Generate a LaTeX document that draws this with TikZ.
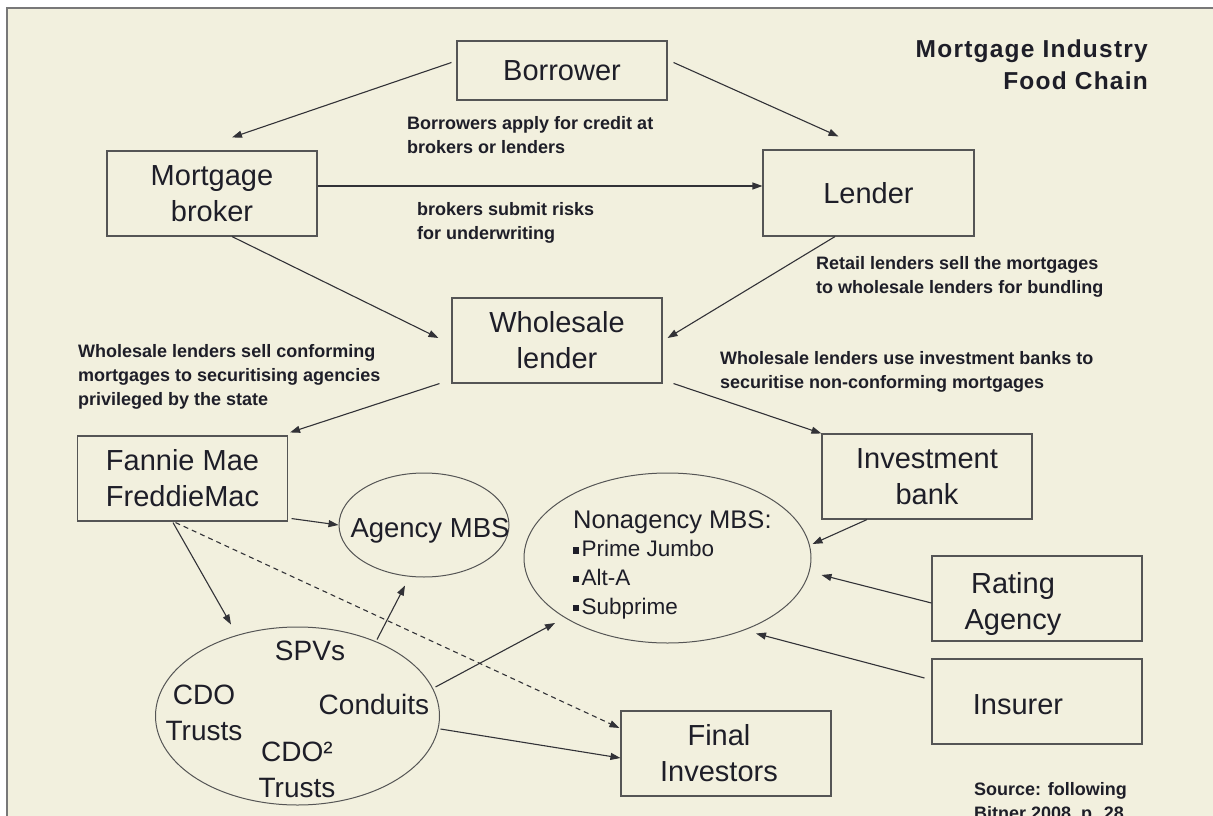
\documentclass[tikz,border=0pt]{standalone}
\usepackage{fontspec}
\setmainfont{Liberation Sans}
\newfontfamily\titlefont{Liberation Sans}[LetterSpace=5]
\usetikzlibrary{shapes.geometric,arrows.meta,calc}
\definecolor{bg}{RGB}{242,240,222}
\definecolor{framecol}{RGB}{120,120,120}
\definecolor{boxcol}{RGB}{85,85,85}
\definecolor{arrcol}{RGB}{50,50,55}
\definecolor{txt}{RGB}{30,30,40}
\newcommand{\mbull}{\rule[3pt]{5.5pt}{6.5pt}\hspace{3pt}}
\tikzset{
  box/.style={draw=boxcol, line width=1.1pt, rectangle, minimum width=210, minimum height=85,
    inner sep=0, align=center, font=\fontsize{29}{36}\selectfont, text=txt},
  ell/.style={draw=boxcol, line width=1pt, ellipse, inner sep=0},
  big/.style={inner sep=0, align=center, font=\fontsize{28}{36}\selectfont, text=txt},
  lbl/.style={inner sep=0, align=left, font=\bfseries\fontsize{18}{24}\selectfont, text=txt},
  arr/.style={draw=arrcol, line width=1.1pt, -{Triangle[length=10pt,width=7pt]}},
}
\begin{document}
\begin{tikzpicture}[x=1pt,y=-1pt]
\useasboundingbox (0,0) rectangle (1213,816);
\clip (0,0) rectangle (1213,816);
\fill[white] (0,0) rectangle (1213,816);
\fill[bg] (7,8) rectangle (1220,830);
\draw[framecol, line width=1.5pt] (7,830) -- (7,8) -- (1220,8);

% title
\node[inner sep=0, align=right, anchor=north east, text=txt,
  font=\titlefont\bfseries\fontsize{24.5}{32}\selectfont] (title) at (1148,40)
  {Mortgage Industry\\Food Chain};

% boxes
\node[box, minimum height=59] (borrower) at (562,70.5) {Borrower};
\node[box] (broker) at (212,193.5) {Mortgage\\broker};
\node[box, minimum width=211, minimum height=86] (lender) at (868.5,193) {Lender};
\node[box] (wholesale) at (557,340.5) {Wholesale\\lender};
\node[box] (fannie) at (182.5,478.5) {Fannie Mae\\FreddieMac};
\node[box] (invest) at (927,476.5) {Investment\\bank};
\node[box] (rating) at (1037,598.5) {};
\node[big, font=\fontsize{29}{36}\selectfont, anchor=north] (ratingtext) at (1013,572) {Rating\\Agency};
\node[box] (insurer) at (1037,701.5) {};
\node[big, font=\fontsize{29}{36}\selectfont, anchor=north] (insurertext) at (1018,694) {Insurer};
\node[box] (final) at (726,753.5) {};
\node[big, font=\fontsize{29}{36}\selectfont] (finaltext) at (719,753.5) {Final\\Investors};

% ellipses
\node[ell, minimum width=170, minimum height=104] (agency) at (424,525) {};
\node[big, font=\fontsize{27.5}{34}\selectfont, anchor=base] (agencytext) at (430,537) {Agency MBS};
\node[ell, minimum width=287, minimum height=170] (nonagency) at (667.5,558) {};
\node[inner sep=0, align=left, anchor=north west, text=txt, font=\fontsize{22.5}{28.7}\selectfont]
  (nonagencytext) at (573,510)
  {{\fontsize{25.5}{28.7}\selectfont Nonagency MBS:}\\\mbull Prime Jumbo\\\mbull Alt-A\\\mbull Subprime};
\node[ell, minimum width=284, minimum height=178] (spv) at (297.5,716) {};
\node[big] (spvs) at (310,651) {SPVs};
\node[big, anchor=north] (cdo) at (204,685) {CDO\\Trusts};
\node[big] (conduits) at (374,704) {Conduits};
\node[big, anchor=north] (cdo2) at (297,742) {CDO²\\Trusts};

% labels
\node[lbl, anchor=north west] (t1) at (407,116) {Borrowers apply for credit at\\brokers or lenders};
\node[lbl, anchor=north west] (t2) at (417,202) {brokers submit risks\\for underwriting};
\node[lbl, anchor=north west] (t3) at (816,256) {Retail lenders sell the mortgages\\to wholesale lenders for bundling};
\node[lbl, anchor=north west] (t4) at (720,351) {Wholesale lenders use investment banks to\\securitise non-conforming mortgages};
\node[lbl, anchor=north west] (t5) at (78,344) {Wholesale lenders sell conforming\\mortgages to securitising agencies\\privileged by the state};
\node[lbl, anchor=north west] (src) at (974,782) {Source: following\\Bitner 2008, p. 28};

% connectors
\draw[arr] ($(borrower.west)+(-5,-8)$) -- ($(broker.north)+(20,-13)$);
\draw[arr] ($(borrower.east)+(6,-8)$) -- ($(lender.north)+(-30,-13)$);
\draw[arr] ($(broker.east)+(0,-7.5)$) -- ($(lender.west)+(0,-7)$);
\draw[arr] ($(broker.south)+(20,0)$) -- ($(wholesale.west)+(-13,-2.5)$);
\draw[arr] ($(lender.south)+(-33.5,0)$) -- ($(wholesale.east)+(5,-2.5)$);
\draw[arr] ($(wholesale.south west)+(-12,0)$) -- ($(fannie.north east)+(2,-3)$);
\draw[arr] ($(wholesale.south east)+(11,0)$) -- (invest.north west);
\draw[arr] ($(invest.south)+(-60,0)$) -- ($(nonagency.east)+(1,-14)$);
\draw[arr] ($(rating.west)+(0,4.5)$) -- ($(nonagency.east)+(10,17)$);
\draw[arr] ($(insurer.west)+(-7,-23.5)$) -- ($(nonagency.south)+(88.5,-10)$);
\draw[arr] ($(fannie.south east)+(3.5,-3)$) -- (agency.west);
\draw[arr] ($(fannie.south)+(-9.5,1)$) -- ($(spv.north)+(-66.5,-2)$);
\draw[arr, dash pattern=on 5pt off 4pt] ($(fannie.south)+(-7,1)$) -- ($(final.west)+(-1,-25.5)$);
\draw[arr] ($(spv.north)+(79.5,13)$) -- ($(agency.south)+(-19,8)$);
\draw[arr] ($(spv.east)+(-4.5,-29)$) -- ($(nonagency.center)+(-112.5,65)$);
\draw[arr] ($(spv.east)+(0.5,13)$) -- ($(final.west)+(0,4.5)$);
\end{tikzpicture}
\end{document}
